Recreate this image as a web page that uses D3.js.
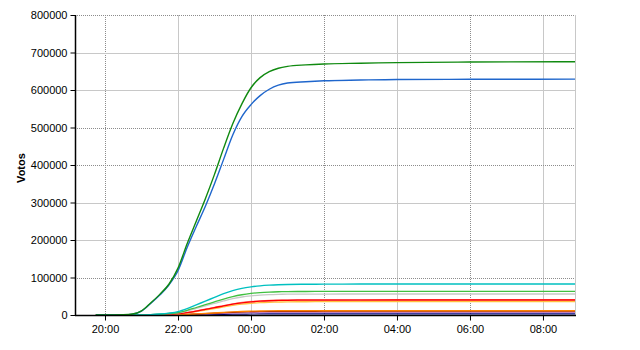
<!DOCTYPE html>
<html>
<head>
<meta charset="utf-8">
<script src="https://cdn.jsdelivr.net/npm/d3@7/dist/d3.min.js"></script>
<style>
  html, body { margin: 0; padding: 0; background: #fff; }
  svg text { font-family: "Liberation Sans", Arial, sans-serif; }
</style>
</head>
<body>
<svg id="chart" width="640" height="350"></svg>
<script>
// ---- data ----
const times = ["19:45","20:00","20:15","20:30","20:45","21:00","21:15","21:30","21:45","22:00","22:15","22:30","22:45","23:00","23:15","23:30","23:45","00:00","00:15","00:30","00:45","01:00","01:30","02:00","03:00","04:00","06:00","08:53"];
const serieVerde   = [0,0,50,500,2500,11000,32000,55000,82000,125000,190000,250000,310000,375000,445000,510000,563000,606000,633000,649000,658000,663000,667000,669500,671500,673000,674500,675500];
const serieAzul    = [0,0,50,500,2400,10500,30500,53000,80000,118000,180000,236000,290000,350000,415000,480000,529000,561000,585000,602000,613000,618500,622000,624500,626500,628000,628500,629000];
const serieCian    = [0,0,0,20,100,300,1000,2500,5000,9000,17000,27000,37000,47000,57000,65000,71000,75000,77800,79600,80800,81500,82000,82300,82500,82600,82700,82700];
const serieVerdeC  = [0,0,0,15,80,250,800,2000,4000,6500,12500,20000,27500,35000,42500,49000,54000,57500,59800,61200,62000,62400,62700,62900,63000,63000,63000,63000];
const serieGris    = [0,0,0,12,70,220,700,1800,3500,5800,11000,17500,24500,31000,37500,43500,48000,51000,53200,54500,55200,55600,55800,55900,56000,56000,56000,56000];
const serieRojo    = [0,0,0,10,50,150,450,1100,2100,3500,6500,10500,15000,19500,24500,29000,32500,35000,36800,38000,38800,39200,39600,39800,39900,40000,40000,40000];
const serieSalmon  = [0,0,0,10,50,160,470,1150,2200,3600,6700,10800,15400,20000,25100,29700,33300,35900,37700,39000,39800,40200,40600,40800,40900,41000,41000,41000];
const serieOro     = [0,0,0,8,40,130,400,950,1850,3100,5700,9200,13200,17200,21600,25700,28900,31200,32900,34000,34700,35100,35500,35700,35800,35900,36000,36000];
const serieNaranja = [0,0,0,3,15,45,130,300,580,1000,1800,2900,4200,5500,7000,8300,9400,10200,10700,11000,11200,11300,11400,11450,11500,11500,11500,11500];
const serieGrana   = [0,0,0,2,12,40,110,260,500,850,1550,2500,3600,4800,6100,7200,8200,8900,9300,9600,9750,9850,9900,9950,10000,10000,10000,10000];
const serieMalva   = [0,0,0,2,8,28,80,180,350,600,1100,1750,2550,3350,4250,5050,5750,6200,6500,6700,6800,6880,6930,6960,7000,7000,7000,7000];
const serieMarino  = [0,0,0,1,4,12,35,80,150,260,470,750,1100,1450,1800,2150,2450,2650,2780,2870,2920,2950,2970,2990,3000,3000,3000,3000];

const seriesList = [
  {name: "Marino",  values: serieMarino,  color: "#000080", w: 1.2},
  {name: "Malva",   values: serieMalva,   color: "#c080c0", w: 1.2},
  {name: "Grana",   values: serieGrana,   color: "#800000", w: 1.2},
  {name: "Naranja", values: serieNaranja, color: "#ff8000", w: 1.4},
  {name: "Oro",     values: serieOro,     color: "#ffc040", w: 1.4},
  {name: "Salmon",  values: serieSalmon,  color: "#ff8080", w: 1.4},
  {name: "Rojo",    values: serieRojo,    color: "#ff0000", w: 1.3},
  {name: "Gris",    values: serieGris,    color: "#c8c8c8", w: 1.3},
  {name: "VerdeC",  values: serieVerdeC,  color: "#40c040", w: 1.3},
  {name: "Cian",    values: serieCian,    color: "#00c0c0", w: 1.4},
  {name: "Azul",    values: serieAzul,    color: "#1f66cc", w: 1.4},
  {name: "Verde",   values: serieVerde,   color: "#108a10", w: 1.4}
];

const xTickLabels = ["20:00","22:00","00:00","02:00","04:00","06:00","08:00"];
const xTickDotted = [true,false,false,true,false,true,false];
const yTickValues = [0,100000,200000,300000,400000,500000,600000,700000,800000];
const yTickDotted = [false,true,false,false,true,true,false,false,true];
const yLabel = "Votos";

// ---- helpers ----
function toDate(s) {
  const [h, m] = s.split(":").map(Number);
  const day = h >= 12 ? 1 : 2;
  return new Date(2000, 0, day, h, m);
}

const svg = d3.select("#chart");
const L = 75, R = 575, T = 15, B = 315;

const x = d3.scaleTime()
  .domain([new Date(2000,0,1,19,10,40), new Date(2000,0,2,8,52,40)])
  .range([L, R]);
const y = d3.scaleLinear().domain([0, 800000]).range([B, T]);

// grid
const g = svg.append("g");
xTickLabels.forEach((t, i) => {
  const px = Math.round(x(toDate(t))) + 0.5;
  g.append("line").attr("x1", px).attr("x2", px).attr("y1", T).attr("y2", B)
    .attr("stroke", xTickDotted[i] ? "#8c8c8c" : "#c8c8c8")
    .attr("stroke-width", 1)
    .attr("stroke-dasharray", xTickDotted[i] ? "1,1" : null);
});
yTickValues.forEach((v, i) => {
  if (v === 0) return;
  const py = Math.round(y(v)) + 0.5;
  g.append("line").attr("x1", L).attr("x2", R).attr("y1", py).attr("y2", py)
    .attr("stroke", yTickDotted[i] ? "#8c8c8c" : "#c8c8c8")
    .attr("stroke-width", 1)
    .attr("stroke-dasharray", yTickDotted[i] ? "1,1" : null);
});
// right border
g.append("line").attr("x1", R + 0.5).attr("x2", R + 0.5).attr("y1", T).attr("y2", B)
  .attr("stroke", "#c8c8c8");

// lines
const line = d3.line()
  .x((d, i) => x(toDate(times[i])))
  .y(d => y(d))
  .curve(d3.curveMonotoneX);

svg.append("clipPath").attr("id", "clip").append("rect")
  .attr("x", L).attr("y", T - 2).attr("width", R - L).attr("height", B - T + 2);

svg.append("g").attr("clip-path", "url(#clip)")
  .selectAll("path").data(seriesList).join("path")
  .attr("d", d => line(d.values))
  .attr("fill", "none")
  .attr("stroke", d => d.color)
  .attr("stroke-width", d => d.w);

// axes
const yAxis = d3.axisLeft(y).tickValues(yTickValues).tickFormat(d3.format("d")).tickSize(5).tickPadding(3);
const ya = svg.append("g").attr("transform", `translate(${L + 0.5},0)`).call(yAxis);
const xAxis = d3.axisBottom(x).tickValues(xTickLabels.map(toDate)).tickFormat(d3.timeFormat("%H:%M")).tickSize(5).tickPadding(5);
const xa = svg.append("g").attr("transform", `translate(0,${B + 0.5})`).call(xAxis);

[ya, xa].forEach(a => {
  a.select(".domain").attr("stroke", "#000").attr("stroke-width", 1.5);
  a.selectAll(".tick line").attr("stroke", "#000");
  a.selectAll(".tick text").attr("fill", "#000").attr("font-size", "11px")
    .attr("font-family", "'Liberation Sans', Arial, sans-serif");
});
xa.select(".domain").attr("d", `M${L},0H${R + 1}`);
ya.select(".domain").attr("d", `M0,${T}V${B}`);

svg.append("text")
  .attr("transform", `translate(25,${(T + B) / 2 + 3}) rotate(-90)`)
  .attr("text-anchor", "middle")
  .attr("font-size", "11px")
  .attr("font-weight", "bold")
  .attr("fill", "#000")
  .text(yLabel);
</script>
</body>
</html>
